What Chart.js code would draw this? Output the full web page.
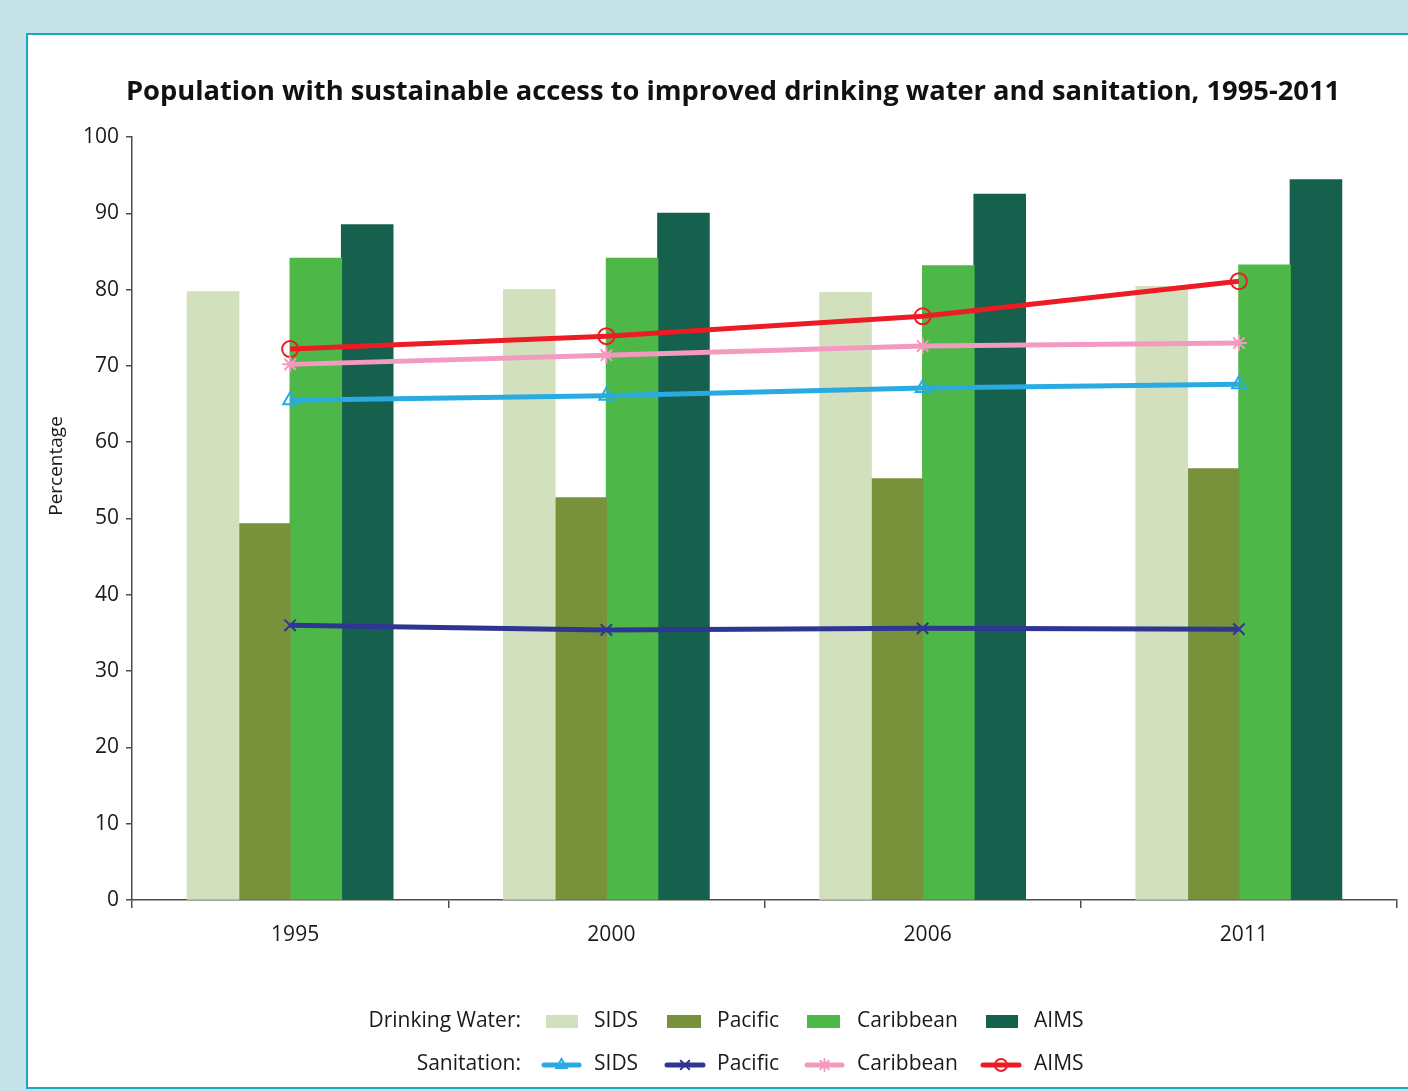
<!DOCTYPE html>
<html>
<head>
<meta charset="utf-8">
<script src="https://cdn.jsdelivr.net/npm/chart.js@4.4.1/dist/chart.umd.min.js"></script>
<style>
  html, body { margin: 0; padding: 0; width: 1408px; height: 1091px; overflow: hidden; background: #c5e2e9; }
  #panel { position: absolute; left: 26px; top: 33px; width: 1400px; height: 1052px; background: #ffffff; border: 2px solid #1aa9bb; }
  #wrap { position: absolute; left: 0; top: 0; width: 1408px; height: 1091px; }
</style>
</head>
<body>
<div id="panel"></div>
<div id="wrap"><canvas id="chart"></canvas></div>
<script>
// Survey years
const years = ['1995', '2000', '2006', '2011'];

// Drinking water access (%)
const waterSIDS = [79.7, 80.0, 79.6, 80.4];
const waterPacific = [49.3, 52.7, 55.2, 56.5];
const waterCaribbean = [84.1, 84.1, 83.1, 83.2];
const waterAIMS = [88.5, 90.0, 92.5, 94.4];

// Sanitation access (%)
const sanSIDS = [65.5, 66.1, 67.1, 67.6];
const sanPacific = [36.0, 35.4, 35.6, 35.5];
const sanCaribbean = [70.2, 71.4, 72.6, 73.0];
const sanAIMS = [72.2, 73.9, 76.5, 81.1];

// Axis ticks
const yTicks = [0, 10, 20, 30, 40, 50, 60, 70, 80, 90, 100];

const titleText = 'Population with sustainable access to improved drinking water and sanitation, 1995-2011';
const yTitle = 'Percentage';
const seriesNames = ['SIDS', 'Pacific', 'Caribbean', 'AIMS'];

const FONT = '"Open Sans", "DejaVu Sans", sans-serif';
const TEXT = '#1a1a1a';
const AXIS = '#4d4d4d';

const barColors = ['#d3e0bd', '#77923b', '#4db848', '#16604e'];
const lineColors = ['#29abe2', '#2e3592', '#f49ac1', '#ed1c24'];
const pointStyles = ['triangle', 'crossRot', 'star', 'circle'];

const waterData = [waterSIDS, waterPacific, waterCaribbean, waterAIMS];
const sanData = [sanSIDS, sanPacific, sanCaribbean, sanAIMS];

const datasets = [];
sanData.forEach((d, i) => {
  datasets.push({
    type: 'line',
    label: 'Sanitation ' + seriesNames[i],
    data: d,
    order: 0,
    borderColor: lineColors[i],
    borderWidth: 5,
    tension: 0,
    pointStyle: pointStyles[i],
    pointRadius: 8,
    pointBorderWidth: 2,
    pointBorderColor: lineColors[i],
    pointBackgroundColor: 'rgba(0,0,0,0)'
  });
});
waterData.forEach((d, i) => {
  datasets.push({
    type: 'bar',
    label: 'Drinking Water ' + seriesNames[i],
    data: d,
    order: 1,
    backgroundColor: barColors[i],
    borderWidth: 0,
    inflateAmount: 0.6,
    barPercentage: 1.0,
    categoryPercentage: 0.65
  });
});

// Title, vertical axis caption and the two-row legend
const decorations = {
  id: 'decorations',
  afterDraw(chart) {
    const ctx = chart.ctx;
    ctx.save();
    ctx.fillStyle = '#111';
    ctx.font = 'bold 27.3px ' + FONT;
    ctx.textAlign = 'center';
    ctx.textBaseline = 'middle';
    ctx.fillText(titleText, 733, 92);

    ctx.save();
    ctx.translate(57, 466);
    ctx.rotate(-Math.PI / 2);
    ctx.font = '19px ' + FONT;
    ctx.fillStyle = TEXT;
    ctx.fillText(yTitle, 0, 0);
    ctx.restore();

    ctx.font = '21px ' + FONT;
    ctx.fillStyle = TEXT;
    ctx.textAlign = 'right';
    ctx.fillText('Drinking Water:', 521, 1021);
    ctx.fillText('Sanitation:', 521, 1064);

    const textX = [594, 717, 857, 1034];
    const swatches = [[546, 578], [667, 701], [807, 840], [986, 1018]];
    const lineSw = [[544, 579], [667, 703], [807, 842], [983, 1019]];
    for (let i = 0; i < 4; i++) {
      ctx.fillStyle = barColors[i];
      ctx.fillRect(swatches[i][0], 1015, swatches[i][1] - swatches[i][0], 13);

      ctx.strokeStyle = lineColors[i];
      ctx.lineWidth = 5;
      ctx.lineCap = 'round';
      ctx.beginPath();
      ctx.moveTo(lineSw[i][0], 1065);
      ctx.lineTo(lineSw[i][1], 1065);
      ctx.stroke();
      ctx.lineWidth = 2;
      ctx.fillStyle = 'rgba(0,0,0,0)';
      Chart.helpers.drawPoint(ctx, { pointStyle: pointStyles[i], radius: 6, borderWidth: 2, rotation: 0 },
        (lineSw[i][0] + lineSw[i][1]) / 2, 1065);

      ctx.fillStyle = TEXT;
      ctx.textAlign = 'left';
      ctx.fillText(seriesNames[i], textX[i], 1021);
      ctx.fillText(seriesNames[i], textX[i], 1064);
    }
    ctx.restore();
  }
};

new Chart(document.getElementById('chart'), {
  data: { labels: years, datasets },
  plugins: [decorations],
  options: {
    responsive: true,
    maintainAspectRatio: false,
    animation: false,
    layout: { padding: { left: 41, right: 11, top: 137, bottom: 131 } },
    plugins: { legend: { display: false }, tooltip: { enabled: false }, title: { display: false } },
    scales: {
      x: {
        type: 'category',
        offset: true,
        afterFit(scale) { scale.height = 60; },
        grid: { offset: true, drawOnChartArea: false, drawTicks: true, tickLength: 8, color: AXIS, lineWidth: 1.5 },
        border: { color: AXIS, width: 1.5 },
        ticks: { color: TEXT, font: { family: FONT, size: 21 }, padding: 14, labelOffset: 5 }
      },
      y: {
        min: 0,
        max: 100,
        afterFit(scale) { scale.width = 91; },
        afterBuildTicks(scale) { scale.ticks = yTicks.map(v => ({ value: v })); },
        grid: { drawOnChartArea: false, drawTicks: true, tickLength: 6, color: AXIS, lineWidth: 1.5 },
        border: { color: AXIS, width: 1.5 },
        ticks: { color: TEXT, font: { family: FONT, size: 21 }, padding: 7 }
      }
    }
  }
});
</script>
</body>
</html>
